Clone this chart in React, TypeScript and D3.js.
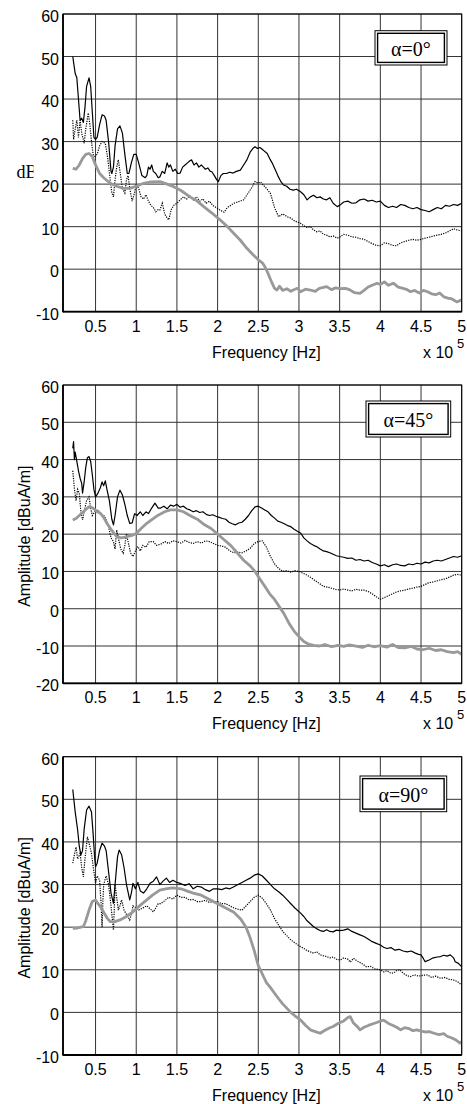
import React from "react";
import * as d3 from "d3";

type P = [number, number];

// x in units of 1e5 Hz, y in dBuA/m
const X_TICKS = [0.5, 1, 1.5, 2, 2.5, 3, 3.5, 4, 4.5, 5];
const X_TICK_LABELS = ["0.5", "1", "1.5", "2", "2.5", "3", "3.5", "4", "4.5", "5"];
const Y_TICKS_A = [-10, 0, 10, 20, 30, 40, 50, 60];
const Y_TICKS_B = [-20, -10, 0, 10, 20, 30, 40, 50, 60];
const LEGENDS = ["α=0°", "α=45°", "α=90°"];

const P1_SOLID: P[] = [[0.22,50],[0.25,46],[0.27,45],[0.29,40],[0.31,35],[0.33,35.5],[0.35,34.5],[0.37,38],[0.39,43],[0.42,45],[0.44,43],[0.46,37],[0.48,31],[0.50,30.5],[0.52,31],[0.55,34],[0.58,36.3],[0.61,36],[0.63,35],[0.66,30],[0.69,23],[0.70,22.5],[0.72,24],[0.74,29],[0.77,33],[0.80,33.7],[0.83,32],[0.86,27],[0.89,22.5],[0.91,22.5],[0.94,25],[0.97,27],[1.0,27],[1.03,25],[1.07,22],[1.11,21.5],[1.13,22],[1.15,24],[1.17,23.5],[1.19,24.5],[1.21,23],[1.24,22.5],[1.27,21.5],[1.29,21.7],[1.32,23],[1.35,22.5],[1.38,25],[1.40,24],[1.42,24.5],[1.45,23],[1.48,23.5],[1.51,22.5],[1.54,22.6],[1.57,24],[1.60,24.5],[1.63,25],[1.66,25.5],[1.68,25.7],[1.71,24.5],[1.74,25],[1.77,24],[1.80,24.5],[1.82,24.1],[1.85,23.5],[1.88,23.8],[1.91,23],[1.93,22.9],[1.96,22],[1.99,21],[2.01,20.6],[2.04,22],[2.07,22.5],[2.11,22.5],[2.15,22.8],[2.19,22.6],[2.23,23],[2.28,23.3],[2.32,24.5],[2.36,25.7],[2.40,27.5],[2.44,28.5],[2.46,28.8],[2.49,28.4],[2.52,28.6],[2.56,28],[2.61,27.2],[2.64,26],[2.67,25],[2.71,23.3],[2.74,22],[2.78,20.5],[2.81,19.8],[2.85,19.5],[2.89,18.8],[2.93,18.6],[2.97,18.8],[3.02,18.2],[3.06,17.5],[3.10,16.3],[3.14,17],[3.18,17.4],[3.22,16.8],[3.26,17],[3.30,16.5],[3.34,16.3],[3.38,16.8],[3.42,15.5],[3.47,14.7],[3.5,15],[3.55,15.8],[3.6,16],[3.65,15.5],[3.7,15.6],[3.75,16.3],[3.8,16.5],[3.85,16],[3.9,16.2],[3.95,15.8],[4.0,16],[4.05,15],[4.1,14.5],[4.15,14.8],[4.2,14.5],[4.25,15.2],[4.3,15],[4.35,14.5],[4.4,14.2],[4.45,14.5],[4.5,14],[4.55,13.8],[4.6,13.5],[4.65,14],[4.7,14.5],[4.75,14.2],[4.8,15],[4.85,14.8],[4.9,15.2],[4.95,15],[5.0,15.5]];

const P1_DOTTED: P[] = [[0.22,35],[0.23,30.5],[0.25,33],[0.27,35],[0.29,31],[0.31,35],[0.33,32],[0.36,29.6],[0.38,33],[0.41,36.7],[0.43,34],[0.45,30],[0.47,27],[0.49,26.5],[0.52,27],[0.55,29],[0.58,30],[0.62,29.6],[0.65,26],[0.68,21],[0.70,18],[0.72,17],[0.74,21],[0.76,24],[0.78,25.7],[0.80,23],[0.83,19],[0.86,17.9],[0.88,21],[0.90,22],[0.92,19],[0.95,16],[0.98,18],[1.0,20],[1.03,19],[1.06,17],[1.09,16.5],[1.12,17.5],[1.15,16],[1.18,15],[1.21,14.5],[1.24,13.5],[1.27,14],[1.29,13.9],[1.32,15.5],[1.35,13],[1.38,12],[1.40,11.6],[1.43,14],[1.46,15],[1.5,15.5],[1.54,16.3],[1.58,17],[1.62,16.5],[1.66,17.2],[1.70,16.3],[1.74,17],[1.78,16],[1.82,16.5],[1.86,15.5],[1.90,16],[1.94,15],[1.98,14.5],[2.03,13.9],[2.08,13.4],[2.12,14.5],[2.16,15],[2.2,15.5],[2.25,15.8],[2.32,16.3],[2.38,18],[2.43,19.5],[2.46,20.6],[2.50,20.2],[2.53,20.5],[2.56,19.8],[2.6,19],[2.65,17.8],[2.70,14.5],[2.75,12.3],[2.8,13],[2.86,12.3],[2.9,12],[2.95,11.3],[3.02,10.8],[3.06,10.2],[3.1,9.8],[3.14,10],[3.18,9.2],[3.22,8.8],[3.26,9],[3.30,8.2],[3.34,8],[3.38,7.6],[3.42,7.8],[3.47,7.3],[3.5,7.5],[3.55,8.2],[3.6,8],[3.65,7.6],[3.7,7.5],[3.75,7.2],[3.8,7],[3.85,6.5],[3.9,6],[3.95,5.6],[4.0,5.5],[4.05,6.2],[4.1,6],[4.15,5.6],[4.2,5.5],[4.25,6.2],[4.3,6.5],[4.35,6.8],[4.4,7],[4.45,6.8],[4.5,7],[4.55,7.3],[4.6,7.5],[4.65,7.8],[4.7,8],[4.75,8.2],[4.8,8.5],[4.85,9],[4.9,9.5],[4.95,9.2],[5.0,9]];

const P1_GRAY: P[] = [[0.22,23.7],[0.26,23.5],[0.30,24.5],[0.34,26],[0.38,27],[0.42,27.2],[0.46,26.5],[0.50,24.5],[0.55,22.5],[0.60,21.5],[0.68,20.2],[0.76,19.5],[0.84,19],[0.92,19],[1.0,19.5],[1.09,20.2],[1.18,20.5],[1.29,20.6],[1.38,20],[1.46,19.4],[1.55,18.5],[1.66,17],[1.75,16],[1.83,14.7],[1.93,13.2],[2.03,11.6],[2.12,10],[2.20,8.4],[2.28,6.8],[2.36,4.9],[2.43,3.5],[2.50,2.2],[2.55,1.5],[2.58,0.6],[2.62,-1],[2.67,-3.3],[2.70,-4.5],[2.73,-4.9],[2.76,-4],[2.8,-5],[2.85,-4.6],[2.9,-5.2],[2.93,-4.9],[2.98,-4.5],[3.02,-5.3],[3.08,-4.7],[3.14,-4.9],[3.2,-5.2],[3.25,-4.5],[3.3,-4.3],[3.34,-4.1],[3.4,-4.8],[3.45,-4.4],[3.5,-4.6],[3.57,-4.5],[3.62,-4.8],[3.68,-5.5],[3.75,-5.7],[3.8,-5],[3.85,-4.2],[3.9,-3.8],[3.96,-3.3],[4.0,-3.6],[4.05,-3],[4.1,-3.8],[4.16,-3.3],[4.22,-4.2],[4.28,-4.5],[4.33,-4.8],[4.37,-5.3],[4.42,-5],[4.48,-5.6],[4.53,-5],[4.58,-5.3],[4.63,-5.8],[4.68,-6],[4.73,-5.6],[4.78,-6.5],[4.83,-6.8],[4.88,-7],[4.94,-7.7],[5.0,-7.2]];

const P2_SOLID: P[] = [[0.22,43],[0.23,44.8],[0.24,40],[0.25,42],[0.27,39.5],[0.29,37],[0.31,35],[0.33,33.6],[0.34,31],[0.36,34],[0.38,38],[0.40,40.5],[0.42,40.8],[0.44,39.5],[0.46,36],[0.48,32],[0.50,30],[0.53,31],[0.56,32.5],[0.58,34],[0.60,33],[0.62,34.3],[0.64,32],[0.67,29],[0.70,24],[0.72,22.5],[0.74,25],[0.77,30],[0.80,31.8],[0.83,30.5],[0.86,28],[0.89,25],[0.92,22.9],[0.95,23],[0.98,25.5],[1.01,25],[1.05,26],[1.08,25],[1.12,26],[1.15,25.5],[1.19,27],[1.23,28.3],[1.27,27],[1.3,27],[1.34,27.5],[1.38,26.8],[1.42,27.8],[1.46,27.5],[1.5,28],[1.54,27.2],[1.58,27.5],[1.62,26.8],[1.66,26.5],[1.7,26],[1.74,26.3],[1.78,25.8],[1.82,26],[1.86,25.3],[1.9,25],[1.94,25.2],[1.98,24.8],[2.02,24.5],[2.06,24.2],[2.1,24],[2.14,23.2],[2.18,22.8],[2.22,22.5],[2.26,23],[2.3,23.2],[2.34,24],[2.38,25],[2.42,26.3],[2.46,27.3],[2.5,27.5],[2.54,27],[2.58,26.5],[2.62,26],[2.66,25],[2.7,24.3],[2.74,23.5],[2.78,23.2],[2.82,22.8],[2.86,22.3],[2.9,22],[2.94,21.3],[2.98,20.8],[3.02,20.3],[3.06,19],[3.1,18.2],[3.14,17.5],[3.18,17],[3.22,16.6],[3.26,16],[3.3,15.5],[3.34,15.3],[3.38,15],[3.42,14.6],[3.46,14.2],[3.5,14],[3.55,13.8],[3.6,13.5],[3.65,13.6],[3.7,13],[3.75,13.2],[3.8,12.8],[3.85,13],[3.9,12.4],[3.95,12],[4.0,11.5],[4.05,11.8],[4.1,11.3],[4.15,11.8],[4.2,12],[4.25,11.6],[4.3,11.5],[4.35,12],[4.4,11.8],[4.45,12.2],[4.5,12],[4.55,12.5],[4.6,12.3],[4.65,12.8],[4.7,13],[4.75,12.8],[4.8,13.2],[4.85,13.6],[4.9,14],[4.95,13.8],[5.0,14.2]];

const P2_DOTTED: P[] = [[0.22,37],[0.24,32.3],[0.26,29],[0.28,32],[0.30,31],[0.32,26],[0.34,23.8],[0.36,26],[0.39,29],[0.42,30],[0.44,27],[0.46,25],[0.49,26],[0.53,26.5],[0.56,25.5],[0.60,25],[0.63,24],[0.66,22],[0.69,19],[0.72,18],[0.74,16],[0.76,21.1],[0.78,19],[0.81,16],[0.84,14.9],[0.86,17],[0.88,20],[0.9,18],[0.93,15],[0.96,14],[0.99,15.5],[1.02,16.7],[1.05,15.5],[1.08,17],[1.12,16.5],[1.16,18],[1.21,18],[1.25,17],[1.3,17.3],[1.35,18],[1.4,17.5],[1.45,18.2],[1.5,18],[1.55,17.6],[1.6,18.3],[1.65,17.8],[1.7,17.5],[1.75,18],[1.8,17.6],[1.85,18.2],[1.9,18],[1.95,17.5],[2.0,17],[2.05,16.8],[2.1,16.5],[2.15,15.5],[2.2,15],[2.25,15.2],[2.3,15],[2.35,15.5],[2.4,16.2],[2.45,17.5],[2.5,18],[2.55,18.2],[2.6,16.5],[2.65,14],[2.7,12],[2.75,10.8],[2.8,10],[2.85,10.2],[2.9,9.8],[2.95,10.2],[3.0,10],[3.05,9.5],[3.1,9],[3.15,8.3],[3.2,7.5],[3.25,6.8],[3.3,6],[3.35,5.8],[3.4,5.5],[3.45,5.2],[3.5,5],[3.55,5.3],[3.6,5],[3.65,4.8],[3.7,5.2],[3.75,5],[3.8,5],[3.85,4.6],[3.9,4],[3.95,3.2],[4.0,2.5],[4.05,3],[4.1,3.5],[4.15,4],[4.2,4.5],[4.25,4.8],[4.3,5],[4.35,5.3],[4.4,5.5],[4.45,5.8],[4.5,6],[4.55,6.5],[4.6,7],[4.65,7.2],[4.7,7.5],[4.75,7.8],[4.8,8],[4.85,8.5],[4.9,9],[4.95,9.2],[5.0,9]];

const P2_GRAY: P[] = [[0.22,23.8],[0.26,24.2],[0.30,25],[0.35,26],[0.40,27],[0.43,27.4],[0.48,26.8],[0.52,26],[0.56,25.6],[0.60,24.5],[0.64,22.9],[0.70,21],[0.76,19.3],[0.82,19],[0.88,19.3],[0.94,19.6],[1.0,20.2],[1.06,21.5],[1.13,22.9],[1.2,24],[1.27,25.1],[1.35,26],[1.42,26.5],[1.5,26.5],[1.58,26],[1.66,25],[1.75,24],[1.84,22.5],[1.92,21.5],[2.0,20],[2.08,18.5],[2.16,17],[2.24,15],[2.32,13],[2.4,11.5],[2.46,10],[2.52,8],[2.58,6],[2.64,4],[2.7,2.5],[2.76,0.5],[2.82,-1.5],[2.88,-4],[2.94,-6],[3.0,-7.5],[3.06,-8.8],[3.12,-9.5],[3.18,-9.8],[3.25,-10],[3.32,-9.6],[3.4,-10.2],[3.48,-9.8],[3.55,-10.1],[3.62,-9.7],[3.7,-10],[3.78,-10.4],[3.85,-9.8],[3.92,-10.2],[4.0,-9.9],[4.08,-10.3],[4.15,-9.6],[4.22,-10.4],[4.3,-10.5],[4.38,-10.1],[4.45,-10.8],[4.52,-11],[4.6,-10.6],[4.68,-11.2],[4.75,-11],[4.82,-11.5],[4.9,-11.8],[4.95,-11.5],[5.0,-12.2]];

const P3_SOLID: P[] = [[0.22,52.3],[0.25,47],[0.28,42.8],[0.30,39],[0.32,36.9],[0.34,38],[0.36,43],[0.39,47.5],[0.42,48.4],[0.45,47],[0.47,42],[0.49,36],[0.50,34.2],[0.52,35],[0.55,38],[0.58,39.7],[0.61,39],[0.63,38],[0.66,33],[0.69,28],[0.72,25.6],[0.74,30],[0.77,36.5],[0.79,38.1],[0.82,37],[0.85,34],[0.88,30],[0.92,26.4],[0.94,28],[0.96,30.3],[0.99,29],[1.02,30.5],[1.05,28.5],[1.09,28],[1.13,29],[1.17,30.3],[1.21,30.8],[1.25,31.8],[1.29,30],[1.33,30.8],[1.37,31.5],[1.41,30.5],[1.45,31],[1.5,30.5],[1.55,30.2],[1.6,29.8],[1.65,30.2],[1.7,29],[1.75,29.6],[1.8,29.4],[1.85,28.8],[1.9,28.4],[1.95,29],[2.0,29],[2.05,28.8],[2.1,29.2],[2.15,29],[2.2,29.5],[2.25,30],[2.3,30.5],[2.35,31],[2.4,31.5],[2.45,32.2],[2.5,32.5],[2.55,32],[2.6,31],[2.65,30],[2.7,29],[2.75,28.3],[2.8,27.5],[2.85,26.5],[2.9,25.5],[2.95,24.5],[3.02,23.3],[3.06,22.5],[3.1,21.5],[3.14,20.8],[3.18,20.1],[3.22,19.6],[3.26,19.2],[3.3,19],[3.34,19.4],[3.38,19],[3.42,18.9],[3.46,19.3],[3.5,19.2],[3.55,19.3],[3.6,19.6],[3.65,19],[3.7,18.6],[3.75,18.2],[3.8,17.8],[3.85,17.2],[3.9,16.6],[3.95,16.2],[4.0,15.8],[4.04,15.3],[4.08,15],[4.13,15.2],[4.18,14.6],[4.23,14.8],[4.28,14.4],[4.33,14.2],[4.38,14.4],[4.43,13.9],[4.47,13.6],[4.5,13.5],[4.53,12.6],[4.55,11.9],[4.6,12.3],[4.65,12.8],[4.7,13],[4.74,13.1],[4.78,13.4],[4.82,13.2],[4.86,13.5],[4.9,12.8],[4.92,11.9],[4.96,11.5],[5.0,10.7]];

const P3_DOTTED: P[] = [[0.22,35],[0.24,37],[0.26,38.8],[0.28,36],[0.31,37.3],[0.33,34],[0.35,31.8],[0.37,36],[0.40,41.2],[0.43,39],[0.45,37.3],[0.48,33],[0.50,30.3],[0.52,32],[0.55,31],[0.57,25],[0.58,20],[0.59,26],[0.60,30],[0.63,32],[0.66,30],[0.69,25],[0.72,19.3],[0.73,24],[0.74,30],[0.76,27],[0.78,24],[0.80,25],[0.82,26.4],[0.85,24],[0.88,23],[0.92,21.7],[0.94,23],[0.96,25],[1.0,24.5],[1.03,24],[1.08,24.5],[1.13,25],[1.17,24.3],[1.21,23.6],[1.24,24.5],[1.27,25.5],[1.3,25.5],[1.35,26.2],[1.4,27],[1.45,26.6],[1.5,27.5],[1.55,27],[1.6,27],[1.65,26.4],[1.7,26.5],[1.75,26],[1.8,26],[1.85,26.3],[1.9,25.8],[1.95,26],[2.0,26],[2.05,25.5],[2.1,25.5],[2.15,25],[2.2,24.5],[2.25,24.2],[2.3,24],[2.35,25],[2.4,26],[2.45,27],[2.5,27.5],[2.55,26.8],[2.6,25.5],[2.65,24],[2.7,22],[2.75,20.5],[2.8,19],[2.85,18],[2.9,17],[2.95,16.3],[3.02,15.4],[3.06,15],[3.1,14.5],[3.14,14.2],[3.18,13.9],[3.22,14.2],[3.26,13.5],[3.3,13.3],[3.34,13.1],[3.38,12.8],[3.42,13],[3.46,12.5],[3.51,12.3],[3.55,12.8],[3.6,12.5],[3.63,11.8],[3.67,12.7],[3.72,12],[3.77,11.5],[3.83,10.7],[3.88,10.8],[3.93,10.2],[4.0,10],[4.04,9.5],[4.08,9.8],[4.12,9.3],[4.16,9.2],[4.2,9.8],[4.24,10],[4.28,9.2],[4.33,8.6],[4.37,8.4],[4.42,8.8],[4.47,8.5],[4.52,8.7],[4.58,8.8],[4.63,8.2],[4.68,8.5],[4.74,8],[4.79,8.2],[4.84,7.8],[4.9,7.6],[4.95,7.2],[5.0,6.4]];

const P3_GRAY: P[] = [[0.22,19.7],[0.28,19.8],[0.32,20],[0.35,20.1],[0.38,21.5],[0.42,24],[0.46,26],[0.50,26.4],[0.53,25.5],[0.56,24.8],[0.6,23.5],[0.64,22.2],[0.68,21.3],[0.74,21.3],[0.8,21.7],[0.88,22.5],[0.96,23.6],[1.04,25],[1.13,26.4],[1.2,27.5],[1.29,28.7],[1.36,29],[1.45,29.2],[1.55,29],[1.62,28.5],[1.7,28],[1.8,27.5],[1.9,26.5],[2.0,25.5],[2.1,24.5],[2.2,23.5],[2.28,22],[2.35,20],[2.4,17.5],[2.45,14.5],[2.5,11],[2.55,9],[2.6,7],[2.65,5.8],[2.7,4.5],[2.75,3.2],[2.8,2],[2.85,1],[2.9,0],[2.95,-0.8],[3.02,-1.8],[3.08,-3],[3.14,-4.1],[3.2,-4.5],[3.26,-4.9],[3.32,-4.2],[3.38,-3.6],[3.42,-3.3],[3.48,-2.6],[3.55,-2],[3.6,-1.2],[3.63,-1],[3.67,-2.5],[3.72,-3.4],[3.75,-4.1],[3.8,-3.5],[3.86,-3],[3.92,-2.6],[3.98,-2.2],[4.04,-1.8],[4.1,-2.6],[4.15,-3],[4.2,-3.5],[4.25,-4.1],[4.3,-3.6],[4.35,-3.8],[4.4,-4.3],[4.45,-4.1],[4.5,-4.4],[4.55,-4.6],[4.6,-4.5],[4.66,-4.9],[4.72,-5.2],[4.78,-5],[4.82,-5.6],[4.88,-6],[4.93,-6.5],[4.98,-7.2],[5.0,-6.8]];

const X_DOMAIN: [number, number] = [0.1, 5];
const SANS = "'Liberation Sans', Arial, Helvetica, sans-serif";
const SERIF = "'Liberation Serif', 'Times New Roman', serif";

interface PanelCfg {
  id: string;
  top: number;
  bottom: number;
  yDomain: [number, number];
  yTicks: number[];
  solid: P[];
  dotted: P[];
  gray: P[];
  legend: string;
  box: { x: number; y: number; w: number; h: number };
  ylabel: "db" | "amp";
}

const LEFT = 63;
const RIGHT = 461.7;

function Panel({ cfg }: { cfg: PanelCfg }) {
  const x = d3.scaleLinear().domain(X_DOMAIN).range([LEFT, RIGHT]);
  const y = d3.scaleLinear().domain(cfg.yDomain).range([cfg.bottom, cfg.top]);
  const line = d3
    .line<P>()
    .x((d) => x(d[0]))
    .y((d) => y(d[1]));
  const clipId = `clip-${cfg.id}`;
  const cx = (LEFT + RIGHT) / 2;
  const cy = (cfg.top + cfg.bottom) / 2;
  const gridColor = "#333";
  return (
    <g>
      <defs>
        <clipPath id={clipId}>
          <rect x={LEFT} y={cfg.top} width={RIGHT - LEFT} height={cfg.bottom - cfg.top} />
        </clipPath>
      </defs>
      {/* grid */}
      {X_TICKS.map((t) => (
        <line key={"gx" + t} x1={x(t)} x2={x(t)} y1={cfg.top} y2={cfg.bottom} stroke={gridColor} strokeWidth={1} />
      ))}
      {cfg.yTicks.map((t) => (
        <line key={"gy" + t} x1={LEFT} x2={RIGHT} y1={y(t)} y2={y(t)} stroke={gridColor} strokeWidth={1} />
      ))}
      {/* data */}
      <g clipPath={`url(#${clipId})`}>
        <path d={line(cfg.solid) || ""} fill="none" stroke="#000" strokeWidth={1.2} strokeLinejoin="round" />
        <path d={line(cfg.dotted) || ""} fill="none" stroke="#000" strokeWidth={1.2} strokeDasharray="1.2 1.2" />
        <path d={line(cfg.gray) || ""} fill="none" stroke="#999" strokeWidth={2.8} strokeLinejoin="round" />
      </g>
      {/* frame */}
      <rect x={LEFT} y={cfg.top} width={RIGHT - LEFT} height={cfg.bottom - cfg.top} fill="none" stroke="#000" strokeWidth={1} />
      <line x1={LEFT} x2={LEFT} y1={cfg.top} y2={cfg.bottom + 0.5} stroke="#000" strokeWidth={1.8} />
      <line x1={LEFT} x2={RIGHT} y1={cfg.bottom} y2={cfg.bottom} stroke="#000" strokeWidth={1.8} />
      {/* y tick labels */}
      {cfg.yTicks.map((t) => (
        <text key={"ty" + t} x={59} y={y(t) + 8} textAnchor="end" fontFamily={SANS} fontSize={16} fill="#000">
          {t}
        </text>
      ))}
      {/* x tick labels */}
      {X_TICKS.map((t, i) => (
        <text key={"tx" + t} x={x(t)} y={cfg.bottom + 20} textAnchor="middle" fontFamily={SANS} fontSize={16} fill="#000">
          {X_TICK_LABELS[i]}
        </text>
      ))}
      <text x={cx + 4} y={cfg.bottom + 46} textAnchor="middle" fontFamily={SANS} fontSize={16} fill="#000">
        Frequency [Hz]
      </text>
      <text x={423} y={cfg.bottom + 46} fontFamily={SANS} fontSize={16} fill="#000">
        x 10
      </text>
      <text x={457} y={cfg.bottom + 36} fontFamily={SANS} fontSize={13} fill="#000">
        5
      </text>
      {/* y label */}
      {cfg.ylabel === "amp" ? (
        <text
          transform={`translate(30,${cy + 2}) rotate(-90)`}
          textAnchor="middle"
          fontFamily={SANS}
          fontSize={16}
          fill="#000"
        >
          Amplitude [dBuA/m]
        </text>
      ) : (
        <g>
          <defs>
            <clipPath id={`${clipId}-yl`}>
              <rect x={0} y={cfg.top} width={33.5} height={cfg.bottom - cfg.top} />
            </clipPath>
          </defs>
          <text x={16.5} y={178} fontFamily={SERIF} fontSize={18} fill="#000" clipPath={`url(#${clipId}-yl)`}>
            dB
          </text>
        </g>
      )}
      {/* legend box */}
      <rect x={cfg.box.x} y={cfg.box.y} width={cfg.box.w} height={cfg.box.h} fill="#fff" stroke="#000" strokeWidth={1} />
      <rect
        x={cfg.box.x + 2.6}
        y={cfg.box.y + 2.6}
        width={cfg.box.w - 5.2}
        height={cfg.box.h - 5.2}
        fill="#fff"
        stroke="#000"
        strokeWidth={1.4}
      />
      <text
        x={cfg.box.x + cfg.box.w / 2}
        y={cfg.box.y + 25.5}
        textAnchor="middle"
        fontFamily={SERIF}
        fontSize={20}
        fill="#000"
      >
        {cfg.legend}
      </text>
    </g>
  );
}

const PANELS: PanelCfg[] = [
  {
    id: "p1",
    top: 14,
    bottom: 311.7,
    yDomain: [-10, 60],
    yTicks: Y_TICKS_A,
    solid: P1_SOLID,
    dotted: P1_DOTTED,
    gray: P1_GRAY,
    legend: LEGENDS[0],
    box: { x: 375, y: 30.7, w: 72, h: 34.3 },
    ylabel: "db",
  },
  {
    id: "p2",
    top: 385,
    bottom: 683.3,
    yDomain: [-20, 60],
    yTicks: Y_TICKS_B,
    solid: P2_SOLID,
    dotted: P2_DOTTED,
    gray: P2_GRAY,
    legend: LEGENDS[1],
    box: { x: 366, y: 401, w: 84.7, h: 36 },
    ylabel: "amp",
  },
  {
    id: "p3",
    top: 756.7,
    bottom: 1055,
    yDomain: [-10, 60],
    yTicks: Y_TICKS_A,
    solid: P3_SOLID,
    dotted: P3_DOTTED,
    gray: P3_GRAY,
    legend: LEGENDS[2],
    box: { x: 360, y: 776, w: 86.7, h: 35.7 },
    ylabel: "amp",
  },
];

export default function App() {
  return (
    <svg
      width={467}
      height={1104}
      viewBox="0 0 467 1104"
      style={{ position: "absolute", left: 0, top: 0, display: "block", background: "#fff" }}
    >
      <rect x={0} y={0} width={467} height={1104} fill="#fff" />
      {PANELS.map((p) => (
        <Panel key={p.id} cfg={p} />
      ))}
    </svg>
  );
}
